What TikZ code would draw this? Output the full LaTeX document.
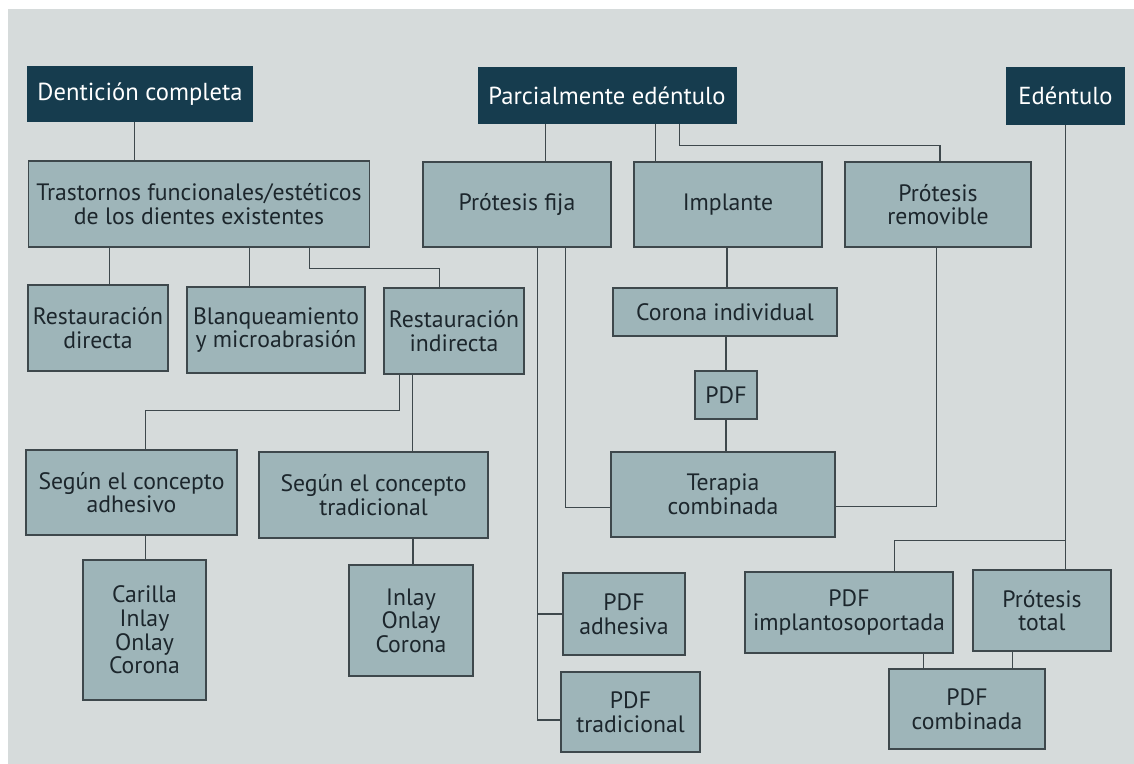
\documentclass[tikz,border=0pt]{standalone}
\usepackage{fontspec}
\setmainfont{PT Sans}
\definecolor{paper}{RGB}{214,219,219}
\definecolor{navy}{RGB}{22,60,78}
\definecolor{boxteal}{RGB}{158,181,185}
\definecolor{linegray}{RGB}{62,72,76}
\definecolor{textdark}{RGB}{28,38,44}
\usetikzlibrary{calc}
\tikzset{
	head/.style={rectangle, draw=navy, fill=navy, text=white, align=center, inner sep=2pt, line width=0.6pt, font=\fontsize{14}{14}\selectfont},
	box/.style={rectangle, draw=linegray, fill=boxteal, text=textdark, align=center, inner sep=2pt, line width=0.6pt, font=\fontsize{13.5}{13.4}\selectfont},
	link/.style={draw=linegray, line width=0.6pt},
}

\begin{document}
\begin{tikzpicture}[x=0.02cm, y=-0.02cm]
		\useasboundingbox (0,0) rectangle (1134,764);
		\fill[white] (0,0) rectangle (1134,764);
		\fill[paper] (8,9) rectangle (1134,764);
		% headers
		\node[head, minimum width=4.48cm, minimum height=1.08cm] (dent) at (140,94) {Dentición completa};
		\node[head, minimum width=5.16cm, minimum height=1.1cm] (parc) at (607,95.5) {Parcialmente edéntulo};
		\node[head, minimum width=2.34cm, minimum height=1.12cm] (eden) at (1065.5,96) {Edéntulo};
		% second row
		\node[box, minimum width=6.84cm, minimum height=1.72cm] (trast) at (199,204) {Trastornos funcionales/estéticos\\de los dientes existentes};
		\node[box, minimum width=3.76cm, minimum height=1.7cm] (fija) at (517,204.5) {Prótesis fija};
		\node[box, minimum width=3.76cm, minimum height=1.7cm] (impl) at (728,204.5) {Implante};
		\node[box, minimum width=3.72cm, minimum height=1.7cm] (remov) at (938,204.5) {Prótesis\\removible};
		% third row
		\node[box, minimum width=2.8cm, minimum height=1.72cm] (rdir) at (98,328) {Restauración\\directa};
		\node[box, minimum width=3.56cm, minimum height=1.72cm] (blanq) at (276,330) {Blanqueamiento\\y microabrasión};
		\node[box, minimum width=2.8cm, minimum height=1.72cm] (rind) at (454,331) {Restauración\\indirecta};
		\node[box, minimum width=4.48cm, minimum height=0.96cm] (coron) at (725,312) {Corona individual};
		\node[box, minimum width=1.24cm, minimum height=0.96cm] (pdf) at (726,395) {PDF};
		\node[box, minimum width=4.48cm, minimum height=1.7cm] (terap) at (723,494.5) {Terapia\\combinada};
		\node[box, minimum width=4.22cm, minimum height=1.7cm] (sadh) at (131.5,492.5) {Según el concepto\\adhesivo};
		\node[box, minimum width=4.58cm, minimum height=1.72cm] (strad) at (373.5,495) {Según el concepto\\tradicional};
		% bottom rows
		\node[box, minimum width=2.46cm, minimum height=2.8cm] (caril) at (144.5,630) {Carilla\\Inlay\\Onlay\\Corona};
		\node[box, minimum width=2.48cm, minimum height=2.22cm] (inlay) at (411,620.5) {Inlay\\Onlay\\Corona};
		\node[box, minimum width=2.44cm, minimum height=1.64cm] (padh) at (624,614) {PDF\\adhesiva};
		\node[box, minimum width=2.78cm, minimum height=1.6cm] (ptrad) at (630.5,712) {PDF\\tradicional};
		\node[box, minimum width=4.16cm, minimum height=1.62cm] (pimpl) at (849,612.5) {PDF\\implantosoportada};
		\node[box, minimum width=2.76cm, minimum height=1.62cm] (ptot) at (1042,610.5) {Prótesis\\total};
		\node[box, minimum width=3.12cm, minimum height=1.6cm] (pcomb) at (967,709) {PDF\\combinada};
		% Dentición completa
		\draw[link] ($(dent.south west)+(107,0)$) coordinate (d1) -- (d1 |- trast.north);
		\draw[link] ($(trast.south west)+(82,0)$) coordinate (t1) -- (t1 |- rdir.north);
		\draw[link] ($(trast.south west)+(222,0)$) coordinate (t2) -- (t2 |- blanq.north);
		\draw[link] ($(trast.south west)+(282,0)$) -- ++(0,21) -| ($(rind.north west)+(56,0)$);
		\draw[link] ($(rind.south west)+(16,0)$) |- ($(sadh.north west)+(120,-39)$) -- ($(sadh.north west)+(120,0)$);
		\draw[link] ($(rind.south west)+(29,0)$) coordinate (r2) -- (r2 |- strad.north);
		\draw[link] ($(caril.north)+(1,0)$) coordinate (c1) -- (c1 |- sadh.south);
		\draw[link] ($(inlay.north)+(2,0)$) coordinate (i1) -- (i1 |- strad.south);
		% Parcialmente edéntulo
		\draw[link] ($(parc.south west)+(68,0)$) coordinate (p1) -- (p1 |- fija.north);
		\draw[link] ($(parc.south west)+(178,0)$) coordinate (p2) -- (p2 |- impl.north);
		\draw[link] ($(parc.south west)+(202,0)$) -- ++(0,22) -| ($(remov.north)+(2,0)$);
		\draw[link] ($(fija.south west)+(115,0)$) coordinate (f1) |- ($(ptrad.west)+(0,8)$);
		\draw[link] (f1 |- padh.west) -- (padh.west);
		\draw[link] ($(fija.south west)+(143,0)$) |- ($(terap.west)+(0,13)$);
		\draw[link] ($(coron.north)+(2,0)$) coordinate (k1) -- (k1 |- impl.south);
		\draw[link] (pdf.north) -- (pdf.north |- coron.south);
		\draw[link] (pdf.south) -- (pdf.south |- terap.north);
		\draw[link] ($(remov.south west)+(92,0)$) |- ($(terap.east)+(0,12)$);
		% Edéntulo
		\draw[link] (eden.south) coordinate (e1) -- (e1 |- ptot.north);
		\draw[link] ($(e1)+(0,416)$) coordinate (e2) -| ($(pimpl.north west)+(150,0)$);
		\draw[link] ($(pimpl.south west)+(179,0)$) coordinate (m1) -- (m1 |- pcomb.north);
		\draw[link] ($(ptot.south west)+(40,0)$) coordinate (m2) -- (m2 |- pcomb.north);
	\end{tikzpicture}
\end{document}
